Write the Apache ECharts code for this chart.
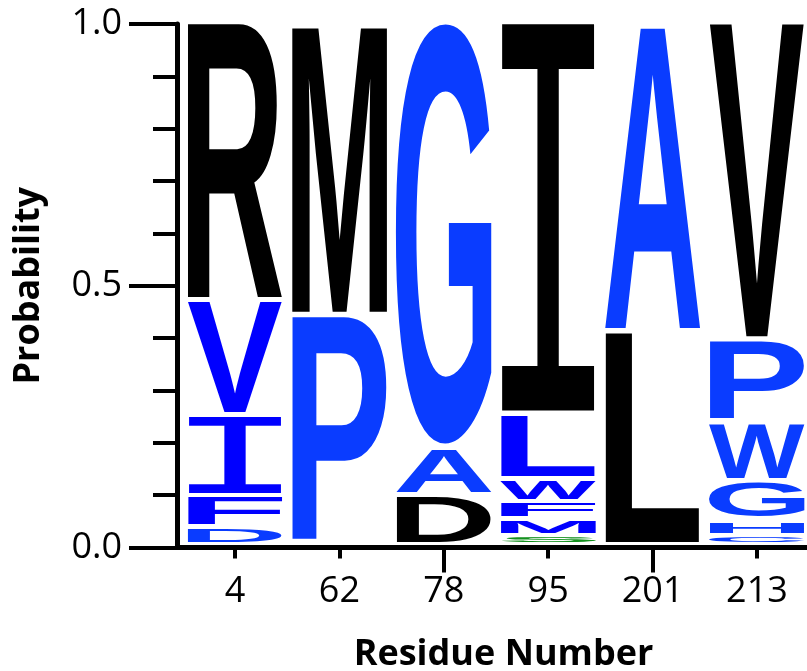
<!DOCTYPE html>
<html>
<head>
<meta charset="utf-8">
<script src="https://cdn.jsdelivr.net/npm/echarts@6/dist/echarts.min.js"></script>
<style>
  html, body { margin: 0; padding: 0; background: #fff; }
  #main { width: 807px; height: 671px; }
</style>
</head>
<body>
<div id="main"></div>
<script>
// residue positions on the x axis
var residues = ['4', '62', '78', '95', '201', '213'];
// letters of each position, bottom to top
var letters = [
  ['D', 'F', 'I', 'V', 'R'],
  ['P', 'M'],
  ['D', 'A', 'G'],
  ['S', 'M', 'F', 'W', 'L', 'I'],
  ['L', 'A'],
  ['C', 'H', 'G', 'W', 'P', 'V']
];
// probability of each letter (same order)
var probs = [
  [0.033, 0.061, 0.155, 0.219, 0.532],
  [0.440, 0.560],
  [0.096, 0.092, 0.812],
  [0.018, 0.032, 0.033, 0.044, 0.124, 0.749],
  [0.409, 0.591],
  [0.018, 0.030, 0.075, 0.111, 0.159, 0.607]
];
var yTicks = [0, 0.5, 1];

// colours: k = black, b = blue, a = lighter blue, g = green
var shade = [
  ['a', 'b', 'b', 'b', 'k'],
  ['a', 'k'],
  ['k', 'a', 'a'],
  ['g', 'b', 'b', 'b', 'b', 'k'],
  ['k', 'a'],
  ['a', 'a', 'a', 'a', 'a', 'k']
];
var palette = { k: '#000000', b: '#0000ff', a: '#0a3cff', g: '#14901e' };

var FONT = 'bold 100px "Liberation Sans", Arial, sans-serif';
var FONT_I = '100px "Liberation Mono", monospace';
var HALF = 0.46;   // half width of a letter column (axis units)
var LIFT = 3;      // stack sits a little above the axis line

var items = [];
letters.forEach(function (col, i) {
  var acc = 0;
  col.forEach(function (ch, j) {
    items.push({ pos: i, ch: ch, y0: acc, y1: acc + probs[i][j], color: palette[shade[i][j]] });
    acc += probs[i][j];
  });
});

var mctx = document.createElement('canvas').getContext('2d');
var boxCache = {};
function glyphBox(ch, font) {
  var key = font + ch;
  if (boxCache[key]) return boxCache[key];
  mctx.font = font;
  mctx.textAlign = 'left';
  mctx.textBaseline = 'middle';
  var m = mctx.measureText(ch);
  boxCache[key] = {
    l: m.actualBoundingBoxLeft, r: m.actualBoundingBoxRight,
    a: m.actualBoundingBoxAscent, d: m.actualBoundingBoxDescent
  };
  return boxCache[key];
}

function renderItem(params, api) {
  var it = items[params.dataIndex];
  var left = api.coord([it.pos - HALF, 0])[0];
  var right = api.coord([it.pos + HALF, 0])[0];
  var bot = api.coord([0, it.y0])[1] - LIFT;
  var top = api.coord([0, it.y1])[1] - LIFT;
  var inset = Math.min(2.5, (bot - top) * 0.25);
  top += inset;
  bot -= inset;
  var font = it.ch === 'I' ? FONT_I : FONT;
  var b = glyphBox(it.ch, font);
  var sx = (right - left) / (b.l + b.r);
  var sy = (bot - top) / (b.a + b.d);
  return {
    type: 'text',
    x: left + b.l * sx,
    y: top + b.a * sy,
    scaleX: sx,
    scaleY: sy,
    style: { text: it.ch, font: font, fill: it.color, align: 'left', verticalAlign: 'middle' }
  };
}

var chart = echarts.init(document.getElementById('main'));
var xmin = -0.5556, xmax = 5.479;

chart.setOption({
  animation: false,
  grid: { left: 177, right: 0, top: 24, bottom: 123.5, containLabel: false, outerBoundsMode: 'none' },
  xAxis: [{
    type: 'value', min: xmin, max: xmax,
    name: 'Residue Number', nameLocation: 'middle', nameGap: 89,
    nameTextStyle: { fontFamily: 'Open Sans', fontWeight: 'bold', fontSize: 36, color: '#000', padding: [0, 0, 0, 23] },
    axisLine: { onZero: false, lineStyle: { color: '#000', width: 5 } },
    axisTick: { customValues: [0, 1, 2, 3, 4, 5], length: 11, lineStyle: { color: '#000', width: 4 } },
    axisLabel: {
      customValues: [0, 1, 2, 3, 4, 5], margin: 26,
      fontFamily: 'Open Sans', fontSize: 36, color: '#000',
      formatter: function (v) { return residues[Math.round(v)]; }
    },
    splitLine: { show: false }
  }, {
    type: 'value', min: xmin, max: xmax, position: 'bottom',
    axisLine: { show: false, onZero: false },
    axisTick: { customValues: [2, 4], length: 25, lineStyle: { color: '#000', width: 4 } },
    axisLabel: { show: false },
    splitLine: { show: false }
  }],
  yAxis: {
    type: 'value', min: 0, max: 1, interval: 0.5,
    name: 'Probability', nameLocation: 'middle', nameGap: 130,
    nameTextStyle: { fontFamily: 'Open Sans', fontWeight: 'bold', fontSize: 36, color: '#000' },
    axisLine: { show: true, onZero: false, lineStyle: { color: '#000', width: 5 } },
    axisTick: { show: true, length: 48, lineStyle: { color: '#000', width: 4 } },
    minorTick: { show: true, splitNumber: 5, length: 24, lineStyle: { color: '#000', width: 4 } },
    axisLabel: {
      margin: 55, fontFamily: 'Open Sans', fontSize: 36, color: '#000',
      formatter: function (v) { return yTicks.indexOf(v) >= 0 ? v.toFixed(1) : ''; }
    },
    splitLine: { show: false }
  },
  series: [{
    type: 'custom',
    xAxisIndex: 0,
    clip: false,
    renderItem: renderItem,
    encode: { x: 0, y: [1, 2] },
    data: items.map(function (d) { return [d.pos, d.y0, d.y1]; })
  }]
});
</script>
</body>
</html>
